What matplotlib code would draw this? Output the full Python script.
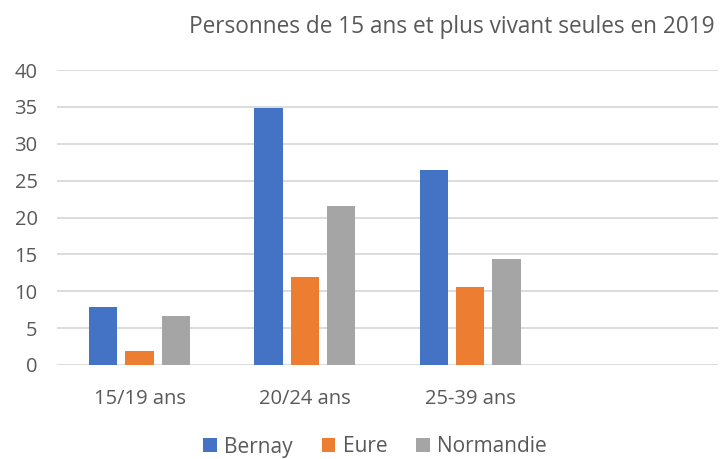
import matplotlib
matplotlib.use("Agg")
import matplotlib.pyplot as plt
import numpy as np

# data
categories = ["15/19 ans", "20/24 ans", "25-39 ans", ""]
bernay = [7.8, 34.9, 26.5]
eure = [1.9, 11.9, 10.6]
normandie = [6.7, 21.6, 14.4]
series_names = ["Bernay", "Eure", "Normandie"]
colors = ["#4472C4", "#ED7D31", "#A5A5A5"]

plt.rcParams["font.family"] = ["Open Sans", "DejaVu Sans"]
txt = "#595959"

fig = plt.figure(figsize=(7.24, 4.59), dpi=100)
ax = fig.add_axes([57 / 724, 94 / 459, 661 / 724, 295 / 459])

x = np.arange(len(categories))
w = 0.172
step = 0.22
for i, (vals, name, c) in enumerate(zip([bernay, eure, normandie], series_names, colors)):
    ax.bar(x[:len(vals)] + (i - 1) * step, vals, width=w, color=c, label=name, zorder=3)

ax.set_xlim(-0.5, len(categories) - 0.5)
ax.set_ylim(0, 40)
ax.set_yticks(range(0, 41, 5))
ax.set_xticks(x[:3])
ax.set_xticklabels(categories[:3])
ax.tick_params(axis="both", length=0, labelsize=14.5, colors=txt)
ax.tick_params(axis="y", pad=14)
ax.tick_params(axis="x", pad=17)
ax.grid(axis="y", color="#d9d9d9", linewidth=1.3, zorder=0)
for s in ax.spines.values():
    s.set_visible(False)

fig.text(452 / 724, 1 - 27 / 459, "Personnes de 15 ans et plus vivant seules en 2019",
         ha="center", va="center", fontsize=16.3, color=txt)

leg = fig.legend(loc="center", bbox_to_anchor=(375 / 724, 1 - 447 / 459), ncol=3,
                 frameon=False, fontsize=15, handlelength=0.65, handleheight=0.65,
                 columnspacing=1.4, handletextpad=0.35)
for t in leg.get_texts():
    t.set_color(txt)

plt.savefig("out.png", dpi=100)
